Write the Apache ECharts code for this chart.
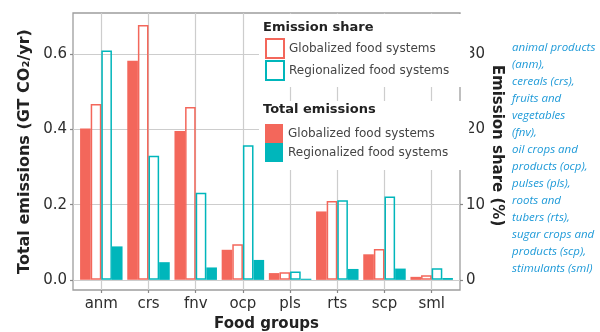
<!DOCTYPE html>
<html>
<head>
<meta charset="utf-8">
<script src="https://cdn.jsdelivr.net/npm/echarts@6/dist/echarts.min.js"></script>
<style>html,body{margin:0;padding:0;background:#fff}#c{width:600px;height:332px}</style>
</head>
<body>
<div id="c"></div>
<script>
// ---- data ----
const categories = ['anm', 'crs', 'fnv', 'ocp', 'pls', 'rts', 'scp', 'sml'];
const totalGlobal = [0.403, 0.583, 0.396, 0.080, 0.018, 0.182, 0.068, 0.008];
const shareGlobal = [23.4, 33.9, 23.0, 4.75, 1.0, 10.5, 4.1, 0.6];
const shareRegional = [30.5, 16.5, 11.6, 17.9, 1.1, 10.6, 11.1, 1.55];
const totalRegional = [0.089, 0.047, 0.033, 0.053, 0.003, 0.029, 0.030, 0.005];
const leftTicks = [0, 0.2, 0.4, 0.6];
const rightTicks = [0, 10, 20, 30];
const legendShareTitle = 'Emission share';
const legendTotalTitle = 'Total emissions';
const systemLabels = ['Globalized food systems', 'Regionalized food systems'];
const noteLines = ['animal products', '(anm),', 'cereals (crs),', 'fruits and', 'vegetables', '(fnv),',
  'oil crops and', 'products (ocp),', 'pulses (pls),', 'roots and', 'tubers (rts),',
  'sugar crops and', 'products (scp),', 'stimulants (sml)'];

const RED = '#F3675B', TEAL = '#00B6BB';
const GRID = '#cdcdcd', FRAME = '#9d9d9d', TXT = '#2e2e2e';
const FONT = 'DejaVu Sans';

// panel geometry (ggplot-like expansion of 0.6 category units)
const panelL = 73, panelR = 460, panelT = 13, panelB = 290;
const unit = (panelR - panelL) / 8.2;
const innerL = panelL + 0.1 * unit, innerR = panelR - 0.1 * unit;
const yMin = -0.027, yMax = 0.71;
const pxPer = (panelB - panelT) / (yMax - yMin);
const y0 = panelT + yMax * pxPer;
const y06 = y0 - 0.6 * pxPer;
const shareK = 50; // 10 % <-> 0.2 GT

const labelMap = {tg: systemLabels[0], sg: systemLabels[0], sr: systemLabels[1], tr: systemLabels[1]};

const chart = echarts.init(document.getElementById('c'), null, {renderer: 'canvas'});
chart.setOption({
  animation: false,
  backgroundColor: '#fff',
  textStyle: {fontFamily: FONT},
  title: [
    {text: legendShareTitle, left: 263, top: 21, padding: 0,
      textStyle: {fontFamily: FONT, fontWeight: 'bold', fontSize: 13, color: '#222'}},
    {text: legendTotalTitle, left: 263, top: 103, padding: 0,
      textStyle: {fontFamily: FONT, fontWeight: 'bold', fontSize: 13, color: '#222'}},
    {text: noteLines.join('\n'), left: 512, top: 39, padding: 0,
      textStyle: {fontFamily: 'Open Sans', fontStyle: 'italic', fontWeight: 'normal', fontSize: 11.5, lineHeight: 17, color: '#1E9AD8'}}
  ],
  legend: [
    {left: 259, top: 14, orient: 'vertical', padding: [24, 21, 6, 6], backgroundColor: '#fff',
      itemWidth: 18, itemHeight: 19, itemGap: 1, icon: 'rect', selectedMode: false,
      data: ['sg', 'sr'], formatter: n => labelMap[n],
      textStyle: {fontFamily: FONT, fontSize: 12, color: '#444'}},
    {left: 259, top: 101, orient: 'vertical', padding: [23, 21, 8, 6], backgroundColor: '#fff',
      itemWidth: 18, itemHeight: 19, itemGap: 0, icon: 'rect', selectedMode: false,
      data: ['tg', 'tr'], formatter: n => labelMap[n],
      textStyle: {fontFamily: FONT, fontSize: 12, color: '#444'}}
  ],
  grid: [
    {left: innerL, right: 600 - innerR, top: panelT, bottom: 332 - panelB, outerBoundsMode: 'none', containLabel: false},
    {left: panelL, right: 600 - panelR, top: panelT, bottom: 332 - panelB, show: true, outerBoundsMode: 'none', containLabel: false,
      borderColor: FRAME, borderWidth: 1.3, backgroundColor: 'rgba(0,0,0,0)'},
    {left: panelL, right: 600 - panelR, top: y06, bottom: 332 - y0, outerBoundsMode: 'none', containLabel: false},
    {left: innerL + 0.5 * unit, right: 600 - (innerR - 0.5 * unit),
      top: panelT, bottom: 332 - panelB, outerBoundsMode: 'none', containLabel: false}
  ],
  xAxis: [
    {gridIndex: 0, type: 'category', data: categories, show: false},
    {gridIndex: 1, type: 'value', show: false},
    {gridIndex: 2, type: 'value', show: false},
    {gridIndex: 3, type: 'category', data: categories, boundaryGap: false,
      axisLine: {show: false},
      axisTick: {show: true, interval: 0, length: 3, lineStyle: {color: '#888', width: 1.2}},
      axisLabel: {interval: 0, margin: 7, fontFamily: FONT, fontSize: 15, color: TXT},
      splitLine: {show: true, interval: 0, lineStyle: {color: GRID, width: 1.2}},
      name: 'Food groups', nameLocation: 'middle', nameGap: 27,
      nameTextStyle: {fontFamily: FONT, fontWeight: 'bold', fontSize: 15, color: '#222'}}
  ],
  yAxis: [
    {gridIndex: 0, type: 'value', min: yMin, max: yMax, position: 'left', offset: innerL - panelL,
      axisLine: {show: false}, axisTick: {show: false}, axisLabel: {show: false}, splitLine: {show: false},
      name: 'Total emissions (GT CO₂/yr)', nameLocation: 'middle', nameGap: 40, nameRotate: 90,
      nameTextStyle: {fontFamily: FONT, fontWeight: 'bold', fontSize: 16, color: '#222'}},
    {gridIndex: 0, type: 'value', min: yMin * shareK, max: yMax * shareK, position: 'right', offset: panelR - innerR,
      axisLine: {show: false}, axisTick: {show: false}, axisLabel: {show: false}, splitLine: {show: false},
      name: 'Emission share (%)', nameLocation: 'middle', nameGap: 29, nameRotate: -90,
      nameTextStyle: {fontFamily: FONT, fontWeight: 'bold', fontSize: 15, color: '#222', padding: [0, 12, 0, 0]}},
    {gridIndex: 1, type: 'value', show: false},
    {gridIndex: 2, type: 'value', min: leftTicks[0], max: leftTicks[leftTicks.length - 1], interval: 0.2, position: 'left',
      axisLine: {show: false},
      axisTick: {show: true, length: 3, lineStyle: {color: '#888', width: 1.2}},
      axisLabel: {margin: 6, fontFamily: FONT, fontSize: 15, color: TXT, formatter: v => v.toFixed(1)},
      splitLine: {show: true, lineStyle: {color: GRID, width: 1.2}}},
    {gridIndex: 2, type: 'value', min: rightTicks[0], max: rightTicks[rightTicks.length - 1], interval: 10, position: 'right',
      axisLine: {show: false},
      axisTick: {show: true, length: 3, lineStyle: {color: '#888', width: 1.2}},
      axisLabel: {margin: 6, fontFamily: FONT, fontSize: 15, color: TXT},
      splitLine: {show: false}},
    {gridIndex: 3, type: 'value', show: false}
  ],
  series: [
    {name: 'tg', type: 'bar', xAxisIndex: 0, yAxisIndex: 0, data: totalGlobal,
      barGap: '0%', barCategoryGap: '10%', itemStyle: {color: RED}},
    {name: 'sg', type: 'bar', xAxisIndex: 0, yAxisIndex: 1, data: shareGlobal,
      barGap: '0%', barCategoryGap: '10%',
      itemStyle: {color: 'rgba(255,255,255,0)', borderColor: RED, borderWidth: 1.5}},
    {name: 'sr', type: 'bar', xAxisIndex: 0, yAxisIndex: 1, data: shareRegional,
      barGap: '0%', barCategoryGap: '10%',
      itemStyle: {color: 'rgba(255,255,255,0)', borderColor: TEAL, borderWidth: 1.5}},
    {name: 'tr', type: 'bar', xAxisIndex: 0, yAxisIndex: 0, data: totalRegional,
      barGap: '0%', barCategoryGap: '10%', itemStyle: {color: TEAL}}
  ]
});
</script>
</body>
</html>
